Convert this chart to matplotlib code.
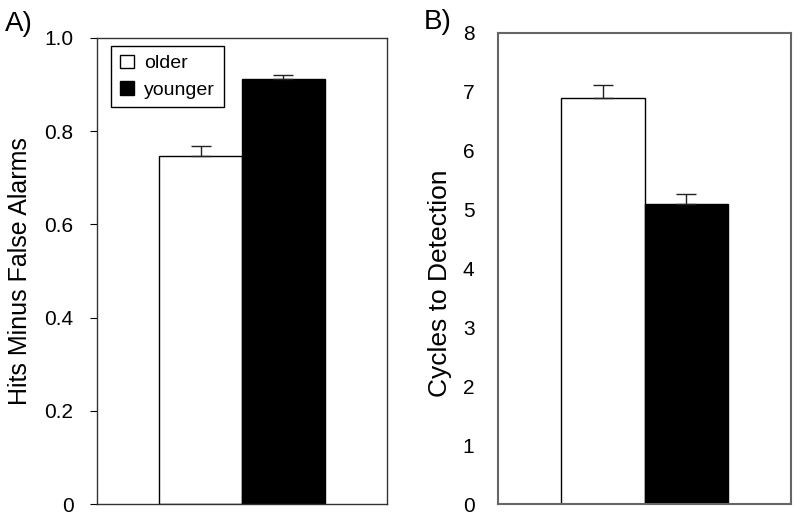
import numpy as np
import matplotlib
matplotlib.use("Agg")
import matplotlib.pyplot as plt

plt.rcParams['font.family'] = ['Liberation Sans', 'DejaVu Sans']

# data
groups = ['older', 'younger']
bar_colors = ['white', 'black']

hits_fa = [0.746, 0.913]
hits_fa_err = [0.022, 0.008]

cycles = [6.89, 5.10]
cycles_err = [0.22, 0.16]

fig = plt.figure(figsize=(8, 5.16), dpi=100)
ax_a = fig.add_axes([97/800, 12/516, 290/800, 466/516])
ax_b = fig.add_axes([498/800, 12/516, 293/800, 471/516])

width = 0.57
xpos = np.array([-width / 2, width / 2])

# Panel A
bars_a = ax_a.bar(xpos, hits_fa, width=width, color=bar_colors, edgecolor='black',
                  linewidth=1.0)
ax_a.errorbar(xpos, hits_fa, yerr=[[0, 0], hits_fa_err], fmt='none', ecolor='#222',
              elinewidth=1.0, capsize=7, capthick=1.0)
ax_a.set_xlim(-1, 1)
ax_a.set_ylim(0, 1.0)
ax_a.set_yticks([0, 0.2, 0.4, 0.6, 0.8, 1.0])
ax_a.set_yticklabels(['0', '0.2', '0.4', '0.6', '0.8', '1.0'])
ax_a.set_xticks([])
ax_a.tick_params(axis='y', direction='out', length=5, width=0.8, pad=12, labelsize=15)
for sp in ax_a.spines.values():
    sp.set_color('#333333')
    sp.set_linewidth(1.0)
ax_a.set_ylabel('Hits Minus False Alarms', fontsize=18)
ax_a.yaxis.set_label_coords(-0.224, 0.5)

leg = ax_a.legend(bars_a, groups, loc='upper left', bbox_to_anchor=(0.048, 0.983),
                  borderaxespad=0, fontsize=14, fancybox=False, framealpha=1,
                  edgecolor='black', handlelength=0.75, handleheight=0.7,
                  handletextpad=0.5, borderpad=0.45, labelspacing=0.45)
leg.get_frame().set_linewidth(1.0)

# Panel B
ax_b.bar(xpos, cycles, width=width, color=bar_colors, edgecolor='black', linewidth=1.0)
ax_b.errorbar(xpos, cycles, yerr=[[0, 0], cycles_err], fmt='none', ecolor='#222',
              elinewidth=1.0, capsize=7, capthick=1.0)
ax_b.set_xlim(-1, 1)
ax_b.set_ylim(0, 8)
ax_b.set_yticks(range(0, 9))
ax_b.set_xticks([])
ax_b.tick_params(axis='y', length=0, pad=17, labelsize=15)
for sp in ax_b.spines.values():
    sp.set_color('#666666')
    sp.set_linewidth(1.5)
ax_b.set_ylabel('Cycles to Detection', fontsize=19)
ax_b.yaxis.set_label_coords(-0.158, 0.468)

fig.text(5/800, 1 - 31/516, 'A)', fontsize=20, ha='left', va='baseline')
fig.text(424/800, 1 - 29/516, 'B)', fontsize=20, ha='left', va='baseline')

fig.savefig('out.png', dpi=100)
